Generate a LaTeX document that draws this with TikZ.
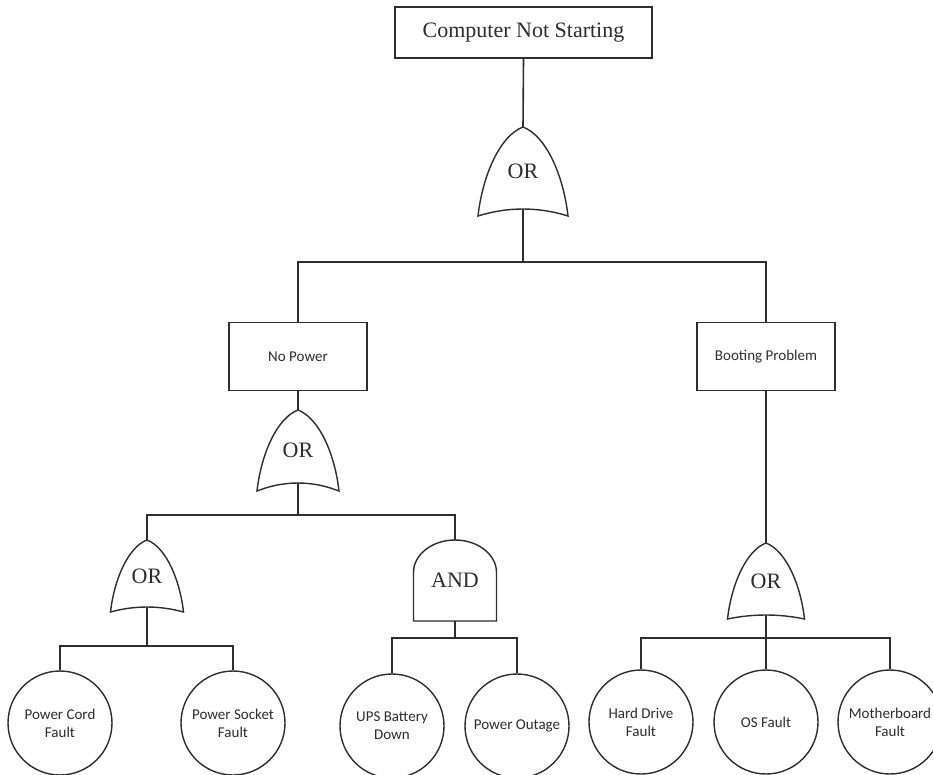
\documentclass[tikz,border=0pt]{standalone}
\usepackage{fontspec}
\setmainfont{Liberation Serif}
\newfontfamily\labelfont{Carlito}
\definecolor{ink}{HTML}{2E2E2E}
\tikzset{
  gateline/.style={draw=ink, line width=1.4pt, fill=white},
  wire/.style={draw=ink, line width=1.6pt},
  event/.style={draw=ink, line width=1.6pt, rectangle, inner sep=0pt, text=ink},
  topevent/.style={event, minimum width=257pt, minimum height=51pt,
    font=\fontsize{22}{26}\selectfont},
  midevent/.style={event, minimum width=138pt, minimum height=68pt,
    font=\labelfont\fontsize{15}{18}\selectfont},
  basic/.style={draw=ink, line width=1.4pt, circle, minimum size=104pt,
    inner sep=0pt, align=center, text=ink,
    font=\labelfont\fontsize{15}{18}\selectfont},
  gatetext/.style={inner sep=0pt, text=ink, font=\fontsize{22}{26}\selectfont},
  % OR gate: origin at the apex; arguments are width, height, dip of the base
  pics/orgate/.style n args={3}{code={
    \path[gateline] (0,0)
      .. controls (-0.26*#1,0.10*#2) and (-0.45*#1,0.55*#2) .. (-0.5*#1,#2)
      .. controls (-0.17*#1,#2-1.333*#3) and (0.17*#1,#2-1.333*#3) .. (0.5*#1,#2)
      .. controls (0.45*#1,0.55*#2) and (0.26*#1,0.10*#2) .. (0,0) -- cycle;
    \coordinate (-in) at (0,0);
    \coordinate (-out) at (0,#2-#3);
    \node[gatetext] (-label) at (0,0.5*#2) {OR};
  }},
  % AND gate: origin at the top of the dome; arguments are width, height
  pics/andgate/.style n args={2}{code={
    \path[gateline] (-0.5*#1,#2) -- (-0.5*#1,0.4*#2)
      .. controls (-0.5*#1,0.18*#2) and (-0.276*#1,0) .. (0,0)
      .. controls (0.276*#1,0) and (0.5*#1,0.18*#2) .. (0.5*#1,0.4*#2)
      -- (0.5*#1,#2) -- cycle;
    \coordinate (-in) at (0,0);
    \coordinate (-out) at (0,#2);
    \node[gatetext] (-label) at (0,0.5*#2) {AND};
  }}
}
\begin{document}
\begin{tikzpicture}[x=1pt, y=-1pt]
  \clip (0,0) rectangle (933,774);
  \fill[white] (0,0) rectangle (933,774);

  % events
  \node[topevent] (top) at (523.5,32.5) {Computer Not Starting};
  \node[midevent] (np) at (298,356.5) {No Power};
  \node[midevent] (bp) at (766,356.5) {Booting Problem};

  % gates
  \pic (g0) at (523,127) {orgate={90}{89}{7}};
  \pic (g1) at (298,410) {orgate={82}{81}{8}};
  \pic (g2) at (147,540) {orgate={73}{72}{5}};
  \pic (g3) at (455,540) {andgate={83}{81}};
  \pic (g4) at (766,543) {orgate={77}{76}{4}};

  % basic events
  \node[basic] (pc)  at (60,723)  {Power Cord\\Fault};
  \node[basic] (ps)  at (233,723) {Power Socket\\Fault};
  \node[basic] (ups) at (392,726) {UPS Battery\\Down};
  \node[basic] (po)  at (517,726) {Power Outage};
  \node[basic] (hd)  at (641,722) {Hard Drive\\Fault};
  \node[basic] (os)  at (766,722) {OS Fault};
  \node[basic] (mb)  at (890,722) {Motherboard\\Fault};

  % bus levels
  \coordinate (bus0) at (0,262);
  \coordinate (bus1) at (0,515);
  \coordinate (bus2) at (0,646);
  \coordinate (bus3) at (0,638);
  \coordinate (bus4) at (0,638);

  % connectors
  \draw[wire] (top.south) -- (g0-in);
  \draw[wire] (g0-out) -- (g0-out |- bus0) -| (np.north);
  \draw[wire] (g0-out |- bus0) -| (bp.north);

  \draw[wire] (np.south) -- (g1-in);
  \draw[wire] (g1-out) -- (g1-out |- bus1) -| (g2-in);
  \draw[wire] (g1-out |- bus1) -| (g3-in);

  \draw[wire] (g2-out) -- (g2-out |- bus2) -| (pc.north);
  \draw[wire] (g2-out |- bus2) -| (ps.north);

  \draw[wire] (g3-out) -- (g3-out |- bus3) -| (ups.north);
  \draw[wire] (g3-out |- bus3) -| (po.north);

  \draw[wire] (bp.south) -- (g4-in);
  \draw[wire] (g4-out) -- (os.north);
  \draw[wire] (g4-out |- bus4) -| (hd.north);
  \draw[wire] (g4-out |- bus4) -| (mb.north);
\end{tikzpicture}
\end{document}
